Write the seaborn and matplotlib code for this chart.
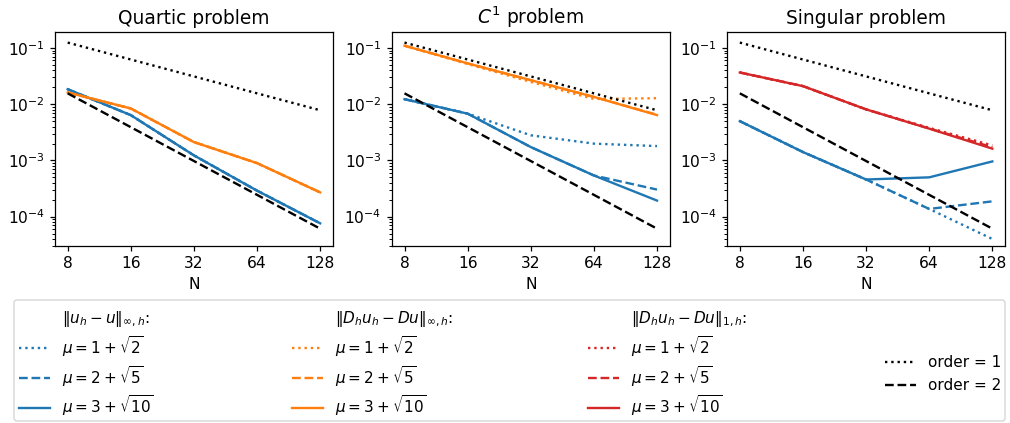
import numpy as np
import pandas as pd
import matplotlib
matplotlib.use("Agg")
import matplotlib.pyplot as plt
from matplotlib.lines import Line2D
from matplotlib.patches import FancyBboxPatch
from matplotlib.ticker import NullLocator, FixedLocator, FixedFormatter
import seaborn as sns

# Grid sizes
N = [8, 16, 32, 64, 128]

# Quartic problem errors (mu = 1+sqrt2, 2+sqrt5, 3+sqrt10)
quartic_u_inf = {
    "dot": [0.0185, 0.0064, 0.00123, 0.00029, 0.000076],
    "dash": [0.0185, 0.0064, 0.00123, 0.00029, 0.000076],
    "solid": [0.0185, 0.0064, 0.00123, 0.00029, 0.000076],
}
quartic_du_inf = {
    "dot": [0.0162, 0.0084, 0.00212, 0.000895, 0.00027],
    "dash": [0.0162, 0.0084, 0.00212, 0.000895, 0.00027],
    "solid": [0.0162, 0.0084, 0.00212, 0.000895, 0.00027],
}

# C^1 problem errors
c1_u_inf = {
    "dot": [0.0123, 0.0068, 0.0028, 0.00199, 0.0018],
    "dash": [0.0123, 0.0068, 0.00173, 0.00054, 0.000303],
    "solid": [0.0123, 0.0068, 0.00173, 0.00054, 0.000193],
}
c1_du_inf = {
    "dot": [0.11, 0.052, 0.025, 0.0124, 0.0128],
    "dash": [0.11, 0.0533, 0.0268, 0.0135, 0.0065],
    "solid": [0.11, 0.0533, 0.0268, 0.0135, 0.0064],
}

# Singular problem errors
sing_u_inf = {
    "dot": [0.0050, 0.00141, 0.000458, 0.000137, 0.000040],
    "dash": [0.0050, 0.00141, 0.000458, 0.000137, 0.000187],
    "solid": [0.0050, 0.00141, 0.000458, 0.00050, 0.00096],
}
sing_du_1 = {
    "dot": [0.0367, 0.021, 0.0081, 0.0038, 0.00185],
    "dash": [0.0367, 0.021, 0.0081, 0.0037, 0.00172],
    "solid": [0.0367, 0.021, 0.0081, 0.00368, 0.00162],
}

# Reference slopes
order1 = [1 / n for n in N]
order2 = [1 / n ** 2 for n in N]

titles = ["Quartic problem", "$C^1$ problem", "Singular problem"]
mu_labels = [r"$\mu = 1 + \sqrt{2}$", r"$\mu = 2 + \sqrt{5}$", r"$\mu = 3 + \sqrt{10}$"]
headers = [r"$\|u_h - u\|_{\infty,h}$:", r"$\|D_h u_h - Du\|_{\infty,h}$:", r"$\|D_h u_h - Du\|_{1,h}$:"]
order_labels = ["order = 1", "order = 2"]

BLUE, ORANGE, RED = "#1f77b4", "#ff7f0e", "#d62728"
styles = {"dot": ":", "dash": "--", "solid": "-"}
LW = 1.7

panels = [
    [(quartic_u_inf, BLUE), (quartic_du_inf, ORANGE)],
    [(c1_u_inf, BLUE), (c1_du_inf, ORANGE)],
    [(sing_u_inf, BLUE), (sing_du_1, RED)],
]

W, H = 1010, 423
fig = plt.figure(figsize=(W / 100, H / 100), dpi=100)
lefts = [0.0545, 0.388, 0.720]
axes = [fig.add_axes([l, 0.4184, 0.275, 0.506]) for l in lefts]

for ax, title, series in zip(axes, titles, panels):
    for data, color in series:
        for key in ["dot", "dash", "solid"]:
            sns.lineplot(x=N, y=data[key], ax=ax, color=color,
                         linestyle=styles[key], linewidth=LW)
    sns.lineplot(x=N, y=order1, ax=ax, color="black", linestyle=":", linewidth=LW)
    sns.lineplot(x=N, y=order2, ax=ax, color="black", linestyle="--", linewidth=LW)
    ax.set_xscale("log", base=2)
    ax.set_yscale("log")
    ax.set_ylim(3.0e-5, 0.193)
    ax.xaxis.set_major_locator(FixedLocator(N))
    ax.xaxis.set_major_formatter(FixedFormatter([str(n) for n in N]))
    ax.xaxis.set_minor_locator(NullLocator())
    ax.tick_params(labelsize=11.2, length=3.9, width=0.9)
    ax.tick_params(axis="y", which="minor", length=2.2, width=0.7)
    for sp in ax.spines.values():
        sp.set_linewidth(0.9)
    ax.set_xlabel("N", fontsize=11.2)
    ax.set_ylabel("")
    ax.set_title(title, fontsize=13.4)

# Shared frame around the legend block (pixel coordinates)
frame = FancyBboxPatch((14, H - 421), 991, 121, boxstyle="round,pad=0,rounding_size=3",
                       transform=None, facecolor="white", edgecolor="0.8",
                       linewidth=1.0, alpha=0.8, zorder=1)
fig.patches.append(frame)

# One legend column per error norm
blank = Line2D([], [], linestyle="none")
col_x = [19, 292, 588]
for x, color, header in zip(col_x, [BLUE, ORANGE, RED], headers):
    handles = [blank] + [Line2D([], [], color=color, linestyle=styles[k], linewidth=LW)
                         for k in ["dot", "dash", "solid"]]
    labels = [header] + mu_labels
    fig.legend(handles, labels, loc="upper left",
               bbox_to_anchor=(x / W, 1 - 309 / H), borderaxespad=0,
               borderpad=0, fontsize=11, labelspacing=0.32, frameon=False)

# Reference-slope legend
order_handles = [Line2D([], [], color="black", linestyle=":", linewidth=LW),
                 Line2D([], [], color="black", linestyle="--", linewidth=LW)]
fig.legend(order_handles, order_labels, loc="upper left",
           bbox_to_anchor=(885 / W, 1 - 355 / H), borderaxespad=0,
           borderpad=0, fontsize=11, labelspacing=0.55, frameon=False)

fig.savefig("out.png", dpi=100)
